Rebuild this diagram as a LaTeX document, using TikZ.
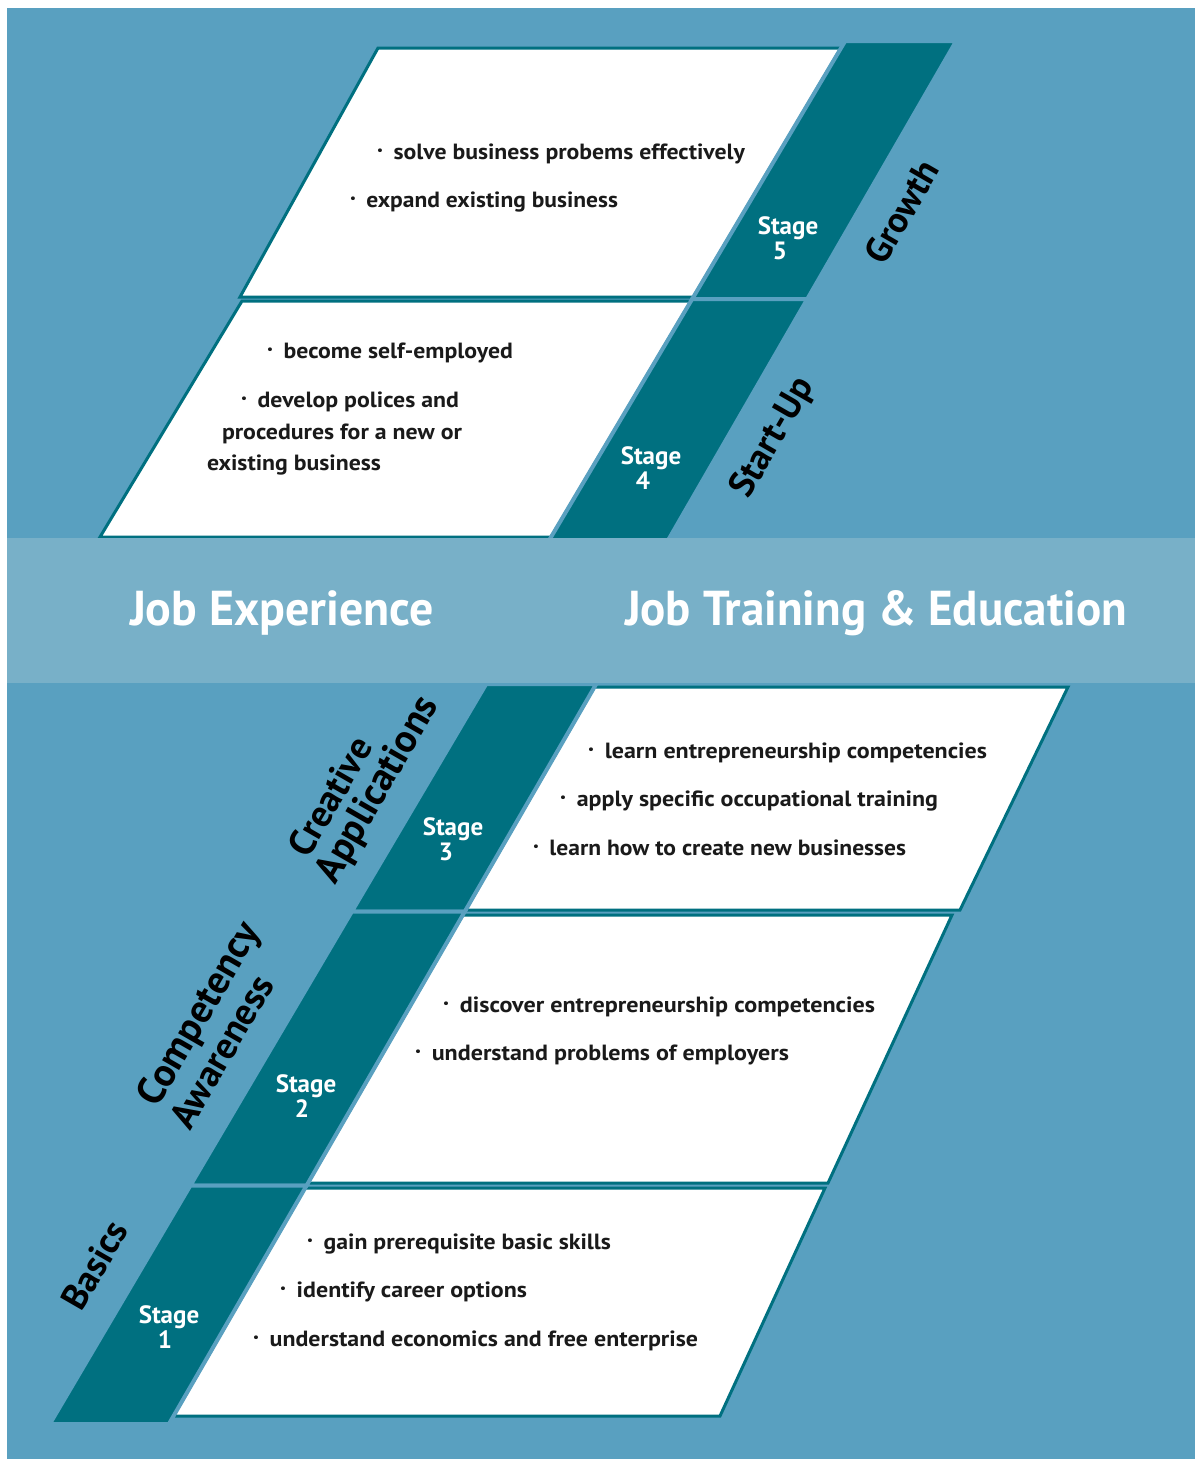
\documentclass[tikz,border=0pt]{standalone}
\usepackage{fontspec}
\setmainfont{PT Sans}
\usepackage{graphicx}
\definecolor{bgblue}{HTML}{59A0C0}
\definecolor{bandblue}{HTML}{78B0C8}
\definecolor{deepteal}{HTML}{007080}
\definecolor{textdark}{HTML}{1A1A1A}
\newcommand\fw[2]{\resizebox{#1}{\height}{#2}}
\newcommand\fu[2]{\resizebox{#1}{!}{#2}}
\newcommand\bul{\raisebox{0.22em}{\scalebox{0.55}{•}}\hspace{0.45em}}
\begin{document}
\begin{tikzpicture}[x=1pt,y=-1pt,
  every node/.style={inner sep=0pt,outer sep=0pt},
  panel/.style={fill=white,draw=deepteal,line width=3pt,line join=miter},
  stripe/.style={fill=deepteal,draw=bgblue,line width=4pt,line join=miter},
  body/.style={anchor=base west,text=textdark,font=\fontsize{22}{25}\selectfont\bfseries},
  stagelbl/.style={align=center,text=white,font=\fontsize{25}{25}\selectfont\bfseries},
  cat/.style={rotate=60,anchor=center,text=black,font=\fontsize{34}{34}\selectfont\bfseries},
  head/.style={anchor=base west,text=white,font=\fontsize{49}{49}\selectfont\bfseries}]
\useasboundingbox (0,0) rectangle (1195,1459);
\fill[white] (0,0) rectangle (1195,1459);
\fill[bgblue] (7,8) rectangle (1195,1459);

% ---- top half panels and stripes
\draw[panel] (378,48) -- (841,48) -- (693.4,297) -- (240,297) -- cycle;
\draw[panel] (242,301) -- (691,301) -- (551.1,537) -- (100,537) -- cycle;
\draw[stripe] (845.2,41) -- (956.2,41) -- (807.3,299) -- (692.2,299) -- cycle;
\draw[stripe] (692.2,299) -- (807.3,299) -- (668.2,540) -- (549.3,540) -- cycle;

% ---- bottom half panels and stripes
\draw[panel] (594.4,687) -- (1068,687) -- (960,910) -- (465.7,910) -- cycle;
\draw[panel] (462.8,915) -- (952,915) -- (828,1183) -- (308,1183) -- cycle;
\draw[panel] (305.1,1188) -- (825,1188) -- (720,1416) -- (173.5,1416) -- cycle;
\draw[stripe] (486.2,684) -- (596.2,684) -- (464.8,911.5) -- (351.9,911.5) -- cycle;
\draw[stripe] (351.9,911.5) -- (464.8,911.5) -- (306.6,1185.5) -- (190.4,1185.5) -- cycle;
\draw[stripe] (190.4,1185.5) -- (306.6,1185.5) -- (168.9,1424) -- (49.8,1424) -- cycle;

% ---- band
\fill[bandblue] (7,538) rectangle (1195,683);
\node[head] (hexp) at (130,625) {\fw{304pt}{Job Experience}};
\node[head] (htrain) at (625,625) {\fw{502pt}{Job Training \& Education}};

% ---- stage labels
\node[stagelbl] (s5) at (788,238) {Stage\\5\hspace*{16pt}};
\node[stagelbl] (s4) at (651,468) {Stage\\4\hspace*{16pt}};
\node[stagelbl] (s3) at (453,839) {Stage\\3\hspace*{14pt}};
\node[stagelbl] (s2) at (306,1096) {Stage\\2\hspace*{8pt}};
\node[stagelbl] (s1) at (169,1327) {Stage\\1\hspace*{8pt}};

% ---- category labels
\node[cat] (cgrowth) at (901.5,212) {\fu{112pt}{Growth}};
\node[cat] (cstart) at (773.5,438) {\fu{132pt}{Start-Up}};
\node[cat] (ccre) at (330,796.5) {\fu{131pt}{Creative}};
\node[cat] (capp) at (378.5,790) {\fu{208pt}{Applications}};
\node[cat] (ccomp) at (200.5,1015) {\fu{205pt}{Competency}};
\node[cat] (caware) at (221.5,1051.5) {\fu{170pt}{Awareness}};
\node[cat] (cbasic) at (94.5,1265) {\fu{96pt}{Basics}};

% ---- body text
\node[body] (t51) at (377,159) {\fw{368pt}{\bul solve business probems effectively}};
\node[body] (t52) at (350,207) {\fw{268pt}{\bul expand existing business}};
\node[body] (t41) at (267,358) {\fw{246pt}{\bul become self-employed}};
\node[body] (t42) at (241,407) {\fw{218pt}{\bul develop polices and}};
\node[body] (t43) at (222,439) {\fw{240pt}{procedures for a new or}};
\node[body] (t44) at (207,470) {\fw{174pt}{existing business}};
\node[body] (t31) at (588,758) {\fw{399pt}{\bul learn entrepreneurship competencies}};
\node[body] (t32) at (560,806) {\fw{378pt}{\bul apply specific occupational training}};
\node[body] (t33) at (533,855) {\fw{373pt}{\bul learn how to create new businesses}};
\node[body] (t21) at (443,1012) {\fw{432pt}{\bul discover entrepreneurship competencies}};
\node[body] (t22) at (415,1060) {\fw{374pt}{\bul understand problems of employers}};
\node[body] (t11) at (307,1249) {\fw{304pt}{\bul gain prerequisite basic skills}};
\node[body] (t12) at (280,1297) {\fw{247pt}{\bul identify career options}};
\node[body] (t13) at (253,1346) {\fw{445pt}{\bul understand economics and free enterprise}};
\end{tikzpicture}
\end{document}
